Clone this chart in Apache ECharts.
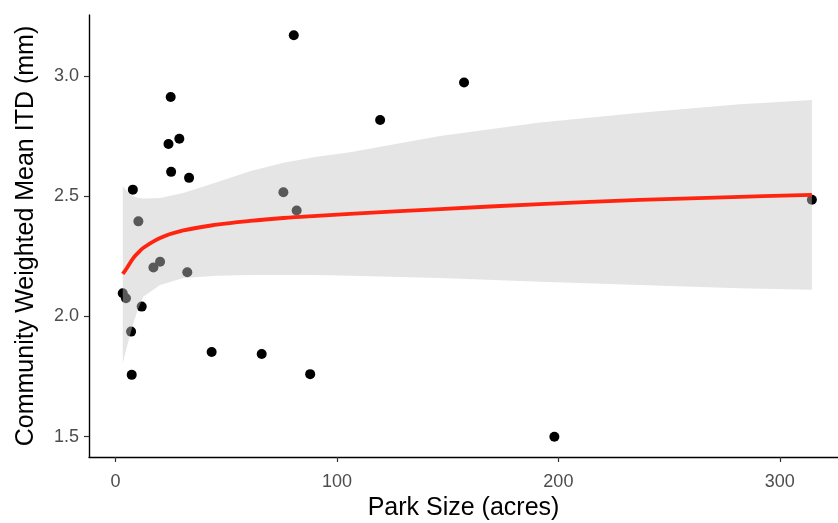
<!DOCTYPE html>
<html>
<head>
<meta charset="utf-8">
<script src="https://cdn.jsdelivr.net/npm/echarts@6/dist/echarts.min.js"></script>
<style>html,body{margin:0;padding:0;background:#fff}#c{width:838px;height:523px}</style>
</head>
<body>
<div id="c"></div>
<script>
// Observed points: park size (acres) and community weighted mean ITD (mm)
var parkSize = [3.25, 4.7, 7.0, 7.3, 7.8, 10.3, 11.8, 17.1, 20.1, 23.9, 24.9, 25.1, 28.8, 32.4, 33.2, 43.4, 66.0, 75.8, 80.5, 81.8, 87.9, 119.5, 157.4, 198.2, 314.5];
var meanITD  = [2.097, 2.076, 1.937, 1.757, 2.528, 2.396, 2.041, 2.204, 2.228, 2.718, 2.914, 2.602, 2.740, 2.184, 2.577, 1.852, 1.844, 2.517, 3.171, 2.441, 1.760, 2.818, 2.974, 1.499, 2.486];

// Fitted curve and confidence band
var fitX     = [3.25, 5.2, 8.0, 10.3, 12.6, 20.1, 30.6, 45.7, 60.7, 75.8, 90.9, 105.9, 146.6, 191.7, 236.9, 282.0, 314.5];
var fitY     = [2.177, 2.203, 2.243, 2.266, 2.286, 2.327, 2.358, 2.382, 2.398, 2.410, 2.419, 2.427, 2.447, 2.468, 2.485, 2.498, 2.506];
var bandLow  = [1.805, 1.877, 1.972, 2.034, 2.083, 2.131, 2.160, 2.170, 2.173, 2.173, 2.173, 2.170, 2.160, 2.145, 2.131, 2.118, 2.111];
var bandHigh = [2.542, 2.521, 2.500, 2.493, 2.491, 2.493, 2.514, 2.559, 2.605, 2.640, 2.665, 2.684, 2.751, 2.807, 2.848, 2.883, 2.901];

var xTicks = [0, 100, 200, 300];
var yTicks = [1.5, 2.0, 2.5, 3.0];

var points = parkSize.map(function (x, i) { return [x, meanITD[i]]; });
var fit = fitX.map(function (x, i) { return [x, fitY[i]]; });
var band = fitX.map(function (x, i) { return [x, bandLow[i], bandHigh[i]]; });

var FONT = 'Liberation Sans, Arial, Helvetica, sans-serif';
var chart = echarts.init(document.getElementById('c'), null, {renderer: 'canvas'});
chart.setOption({
  animation: false,
  backgroundColor: '#ffffff',
  grid: {left: 89, right: 0, top: 15, bottom: 66, containLabel: false, outerBoundsMode: 'none'},
  xAxis: {
    type: 'value', min: -12.0, max: 326.3,
    name: 'Park Size (acres)', nameLocation: 'middle', nameGap: 38,
    nameTextStyle: {fontFamily: FONT, fontSize: 25, color: '#000'},
    axisLine: {show: true, onZero: false, lineStyle: {color: '#000', width: 1.4}},
    axisTick: {show: true, length: 5, customValues: xTicks, lineStyle: {color: '#333', width: 1.2}},
    axisLabel: {customValues: xTicks, margin: 16, fontFamily: FONT, fontSize: 18, color: '#4d4d4d'},
    splitLine: {show: false}
  },
  yAxis: {
    type: 'value', min: 1.415, max: 3.255,
    name: 'Community Weighted Mean ITD (mm)', nameLocation: 'middle', nameGap: 50, nameRotate: 90,
    nameTextStyle: {fontFamily: FONT, fontSize: 25, color: '#000'},
    axisLine: {show: true, onZero: false, lineStyle: {color: '#000', width: 1.4}},
    axisTick: {show: true, length: 5, customValues: yTicks, lineStyle: {color: '#333', width: 1.2}},
    axisLabel: {customValues: yTicks, margin: 10, fontFamily: FONT, fontSize: 18, color: '#4d4d4d',
      formatter: function (v) { return v.toFixed(1); }},
    splitLine: {show: false}
  },
  series: [
    {type: 'scatter', data: points, symbolSize: 10, itemStyle: {color: '#000', opacity: 1}, z: 1},
    {type: 'custom', data: band, z: 2, silent: true,
      encode: {x: 0, y: [1, 2]},
      renderItem: function (params, api) {
        if (params.dataIndex !== 0) return null;
        var pts = [];
        for (var i = 0; i < band.length; i++) pts.push(api.coord([band[i][0], band[i][2]]));
        for (var j = band.length - 1; j >= 0; j--) pts.push(api.coord([band[j][0], band[j][1]]));
        return {type: 'polygon', shape: {points: pts},
          style: {fill: 'rgba(197,197,197,0.45)', stroke: null}};
      }},
    {type: 'line', data: fit, symbol: 'none', smooth: 0.4,
      lineStyle: {color: '#ff2410', width: 3.8}, z: 3}
  ]
});
</script>
</body>
</html>
